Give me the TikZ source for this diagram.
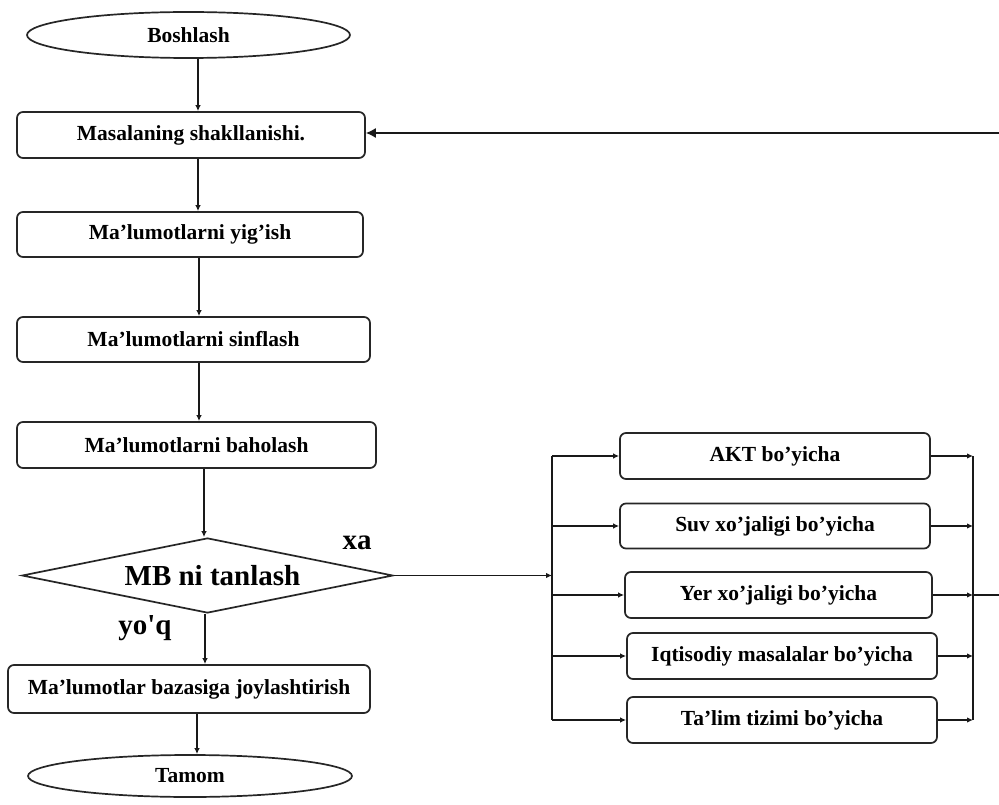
\documentclass[tikz,border=0pt]{standalone}
\usepackage{fontspec}
\setmainfont{Liberation Serif}
\newfontfamily\plainserif{Liberation Serif}
\usetikzlibrary{shapes.geometric,arrows.meta}
\begin{document}
\begin{tikzpicture}[x=1pt,y=-1pt,
  txt/.style={font=\fontsize{21.5}{24}\selectfont\bfseries},
  box/.style={txt,draw=black!85,rounded corners=6pt,line width=1.7pt,inner sep=0pt},
  term/.style={txt,draw=black!85,ellipse,line width=1.7pt,inner sep=0pt},
  dec/.style={draw=black!85,diamond,aspect=4.95,line width=1.7pt,inner sep=0pt,font=\fontsize{29}{32}\selectfont\bfseries},
  lbl/.style={font=\fontsize{29}{32}\selectfont\bfseries,inner sep=0pt},
  ln/.style={line width=1.4pt,draw=black!90},
  arr/.style={ln,-{Latex[length=6pt,width=5.5pt]}},
  bigarr/.style={ln,-{Latex[length=10pt,width=10pt]}}
]
\useasboundingbox[fill=white] (0,0) rectangle (999,805);

% left column
\node[term,minimum width=323pt,minimum height=46pt] (start) at (188.5,35) {Boshlash};
\node[box,minimum width=348pt,minimum height=46pt] (m1) at (191,135) {Masalaning shakllanishi.};
\node[box,minimum width=346pt,minimum height=45pt] (m2) at (190,234.5) {Ma'lumotlarni yig'ish};
\node[box,minimum width=353pt,minimum height=45pt] (m3) at (193.5,339.5) {Ma'lumotlarni sinflash};
\node[box,minimum width=359pt,minimum height=46pt] (m4) at (196.5,445) {Ma'lumotlarni baholash};
\node[dec,minimum width=371pt,minimum height=75pt] (dia) at (207.5,575.5) {\hspace{10pt}MB ni tanlash};
\node[box,minimum width=362pt,minimum height=48pt] (m5) at (189,689) {Ma'lumotlar bazasiga joylashtirish};
\node[term,minimum width=324pt,minimum height=42pt] (end) at (190,776) {Tamom};

\node[lbl] (xa) at (357,543) {xa};
\node[lbl] (yoq) at (145,628) {\plainserif\bfseries yo'q};

\draw[arr] ([xshift=9.5pt]start.south) -- ([xshift=9.5pt]start.south |- m1.north);
\draw[arr] ([xshift=7pt]m1.south) -- ([xshift=7pt]m1.south |- m2.north);
\draw[arr] ([xshift=9pt]m2.south) -- ([xshift=9pt]m2.south |- m3.north);
\draw[arr] ([xshift=5.5pt]m3.south) -- ([xshift=5.5pt]m3.south |- m4.north);
\draw[arr] ([xshift=7.5pt]m4.south) -- ([xshift=7.5pt]m4.south |- dia.north);
\draw[arr] ([xshift=-2.5pt]dia.south) -- ([xshift=-2.5pt]dia.south |- m5.north);
\draw[arr] ([xshift=8pt]m5.south) -- ([xshift=8pt]m5.south |- end.north);

% feedback arrow
\coordinate (fb) at (999,133);
\draw[bigarr] (fb) -- (fb -| m1.east);

% right column
\node[box,minimum width=310pt,minimum height=46pt] (r1) at (775,456) {AKT bo'yicha};
\node[box,minimum width=310pt,minimum height=45pt] (r2) at (775,526) {Suv xo'jaligi bo'yicha};
\node[box,minimum width=307pt,minimum height=46pt] (r3) at (778.5,595) {Yer xo'jaligi bo'yicha};
\node[box,minimum width=310pt,minimum height=46pt] (r4) at (782,656) {Iqtisodiy masalalar bo'yicha};
\node[box,minimum width=310pt,minimum height=46pt] (r5) at (782,720) {Ta'lim tizimi bo'yicha};

\coordinate (busL) at (552,578);
\coordinate (busR) at (973,595);
\coordinate (out) at (999,595);

\draw[arr] (dia.east) -- (dia.east -| busL);
\draw[ln] (busL |- r1) -- (busL |- r5);
\draw[ln] (busR |- r1) -- (busR |- r5);
\foreach \r in {r1,r2,r3,r4,r5}{
  \draw[arr] (busL |- \r) -- (\r.west);
  \draw[arr] (\r.east) -- (busR |- \r);
}
\draw[ln] (busR |- r3) -- (out);
\end{tikzpicture}
\end{document}
